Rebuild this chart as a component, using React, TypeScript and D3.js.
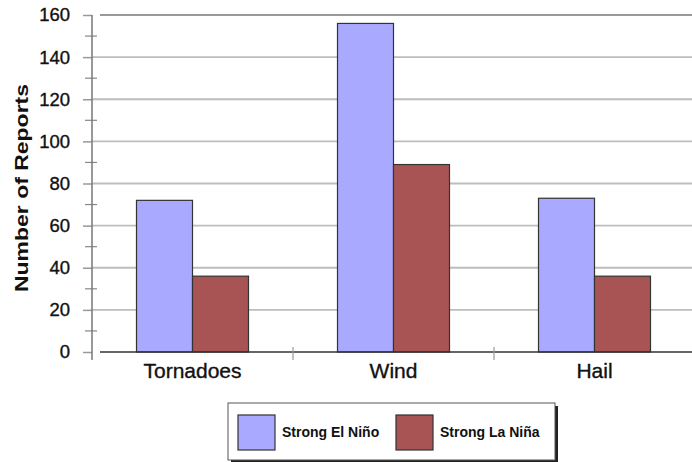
import React, { useEffect, useRef } from 'react';
import * as d3 from 'd3';

const categories = ['Tornadoes', 'Wind', 'Hail'];
const seriesNames = ['Strong El Niño', 'Strong La Niña'];
const elNino = [72, 156, 73];
const laNina = [36, 89, 36];
const yTicks = [0, 20, 40, 60, 80, 100, 120, 140, 160];
const yMinorTicks = [10, 30, 50, 70, 90, 110, 130, 150];

const colors = ['#a9aaff', '#a85454'];

const App: React.FC = () => {
  const svgRef = useRef<SVGSVGElement>(null);

  useEffect(() => {
    document.body.style.margin = '0';
    if (!svgRef.current) return;

    const W = 692;
    const H = 462;
    const left = 92;
    const right = 695;
    const top = 15;
    const bottom = 352;

    d3.select(svgRef.current).selectAll('*').remove();
    const svg = d3
      .select(svgRef.current)
      .attr('width', W)
      .attr('height', H)
      .style('font-family', '"Liberation Sans", Arial, sans-serif');

    const x = d3.scaleBand().domain(categories).range([left, right]).padding(0);
    const y = d3.scaleLinear().domain([0, 160]).range([bottom, top]);

    const barW = 56;
    const sub = d3
      .scaleBand()
      .domain(seriesNames)
      .range([x.bandwidth() / 2 - barW, x.bandwidth() / 2 + barW]);

    // Gridlines
    svg
      .append('g')
      .selectAll('line')
      .data(yTicks.filter((d) => d > 0 && d < 160))
      .enter()
      .append('line')
      .attr('x1', left)
      .attr('x2', W)
      .attr('y1', (d) => y(d))
      .attr('y2', (d) => y(d))
      .attr('stroke', '#bdbdbd')
      .attr('stroke-width', 1.8);

    // top frame line
    svg
      .append('line')
      .attr('x1', 100)
      .attr('x2', W)
      .attr('y1', y(160))
      .attr('y2', y(160))
      .attr('stroke', '#777')
      .attr('stroke-width', 1.5);

    // Bars
    const values = [elNino, laNina];
    seriesNames.forEach((s, si) => {
      svg
        .append('g')
        .selectAll('rect')
        .data(categories)
        .enter()
        .append('rect')
        .attr('x', (c) => x(c)! + sub(s)!)
        .attr('width', sub.bandwidth())
        .attr('y', (c, i) => y(values[si][i]))
        .attr('height', (c, i) => bottom - y(values[si][i]))
        .attr('fill', colors[si])
        .attr('stroke', '#333')
        .attr('stroke-width', 1.2);
    });

    // Y axis
    const yAxis = d3
      .axisLeft(y)
      .tickValues(yTicks)
      .tickSize(9)
      .tickPadding(13)
      .tickFormat(d3.format('d'));
    const gy = svg.append('g').attr('transform', `translate(${left},0)`).call(yAxis);
    gy.select('.domain').remove();
    gy.selectAll('line').attr('stroke', '#999').attr('stroke-width', 1.5);
    gy.selectAll('text')
      .attr('fill', '#111')
      .attr('stroke', '#111')
      .attr('stroke-width', 0.35)
      .style('font-size', '18.5px');

    svg
      .append('g')
      .selectAll('line')
      .data(yMinorTicks)
      .enter()
      .append('line')
      .attr('x1', left - 7)
      .attr('x2', left + 5)
      .attr('y1', (d) => y(d))
      .attr('y2', (d) => y(d))
      .attr('stroke', '#888')
      .attr('stroke-width', 1.2);

    svg
      .append('line')
      .attr('x1', left)
      .attr('x2', left)
      .attr('y1', top)
      .attr('y2', bottom + 8)
      .attr('stroke', '#777')
      .attr('stroke-width', 1.5);

    // X axis
    svg
      .append('line')
      .attr('x1', 100)
      .attr('x2', W)
      .attr('y1', bottom)
      .attr('y2', bottom)
      .attr('stroke', '#333')
      .attr('stroke-width', 1.5);

    svg
      .append('g')
      .selectAll('line')
      .data(categories.slice(1))
      .enter()
      .append('line')
      .attr('x1', (c) => x(c)!)
      .attr('x2', (c) => x(c)!)
      .attr('y1', bottom - 5)
      .attr('y2', bottom + 8)
      .attr('stroke', '#999')
      .attr('stroke-width', 1.2);

    svg
      .append('g')
      .selectAll('text')
      .data(categories)
      .enter()
      .append('text')
      .attr('x', (c) => x(c)! + x.bandwidth() / 2)
      .attr('y', 378)
      .attr('text-anchor', 'middle')
      .attr('fill', '#111')
      .attr('stroke', '#111')
      .attr('stroke-width', 0.35)
      .style('font-size', '21px')
      .text((c) => c);

    // Y label
    svg
      .append('text')
      .attr('transform', `translate(28,188) rotate(-90)`)
      .attr('text-anchor', 'middle')
      .attr('fill', '#111')
      .attr('textLength', 208)
      .attr('lengthAdjust', 'spacingAndGlyphs')
      .style('font-size', '19px')
      .style('font-weight', 'bold')
      .text('Number of Reports');

    // Legend
    const lg = svg.append('g').attr('transform', 'translate(228,403)');
    lg.append('rect').attr('x', 3).attr('y', 3).attr('width', 327).attr('height', 57).attr('fill', '#222');
    lg.append('rect')
      .attr('width', 327)
      .attr('height', 57)
      .attr('fill', '#fff')
      .attr('stroke', '#555')
      .attr('stroke-width', 1);
    const swX = [10, 168];
    seriesNames.forEach((s, i) => {
      lg.append('rect')
        .attr('x', swX[i])
        .attr('y', 12)
        .attr('width', 37)
        .attr('height', 35)
        .attr('fill', colors[i])
        .attr('stroke', '#333')
        .attr('stroke-width', 1.2);
      lg.append('text')
        .attr('x', swX[i] + 44)
        .attr('y', 34)
        .attr('fill', '#111')
        .style('font-size', '14px')
        .style('font-weight', 'bold')
        .text(s);
    });
  }, []);

  return <svg ref={svgRef} style={{ display: 'block' }}></svg>;
};

export default App;
